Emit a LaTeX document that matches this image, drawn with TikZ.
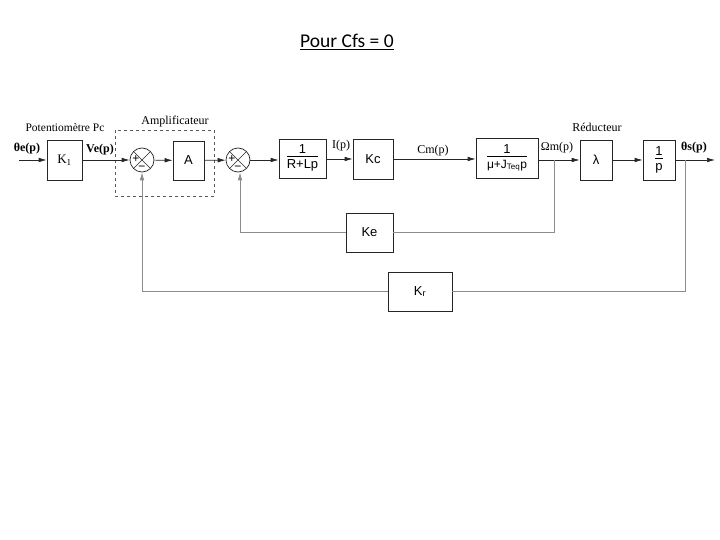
\documentclass[tikz,border=0pt]{standalone}
\usepackage{fontspec}
\setmainfont{Liberation Serif}
\setsansfont{Liberation Sans}
\newfontfamily\titlefont{Carlito}
\usetikzlibrary{arrows.meta}
\begin{document}
\begin{tikzpicture}[x=1pt,y=-1pt,
  blk/.style={draw=black!85, line width=0.7pt, inner sep=1pt, font=\sffamily\fontsize{13}{14}\selectfont},
  sumj/.style={circle, draw=black!85, line width=0.7pt, minimum size=24pt, inner sep=0pt,
    path picture={\draw[line width=0.5pt] (path picture bounding box.north west) -- (path picture bounding box.south east)
      (path picture bounding box.north east) -- (path picture bounding box.south west);}},
  fwd/.style={draw=black!85, line width=0.7pt},
  fb/.style={draw=black!45, line width=0.7pt},
  arr/.style={-{Latex[length=8pt,width=4.6pt]}},
  lab/.style={font=\fontsize{12}{13}\selectfont, inner sep=0pt},
  sg/.style={font=\sffamily\fontsize{12}{12}\selectfont, inner sep=0pt}
]
\useasboundingbox (0,0) rectangle (720,540);

% title
\node[font=\titlefont\fontsize{19.5}{22}\selectfont] (title) at (347,42) {\underline{Pour Cfs = 0}};

% blocks
\node[blk, minimum width=35pt, minimum height=40pt, font=\rmfamily\fontsize{13}{14}\selectfont] (K1) at (64.5,160) {K\textsubscript{1}};
\node[sumj] (s1) at (142,160) {};
\node[blk, minimum width=31pt, minimum height=39pt] (A) at (188.5,160.5) {A};
\node[sumj] (s2) at (238,160) {};
\node[blk, minimum width=47pt, minimum height=39pt] (RL) at (302.5,158.5)
  {\begin{tabular}{@{}c@{}}1\\[-2pt]\hline\rule{0pt}{12pt}R+Lp\end{tabular}};
\node[blk, minimum width=40pt, minimum height=40pt] (Kc) at (373,159) {Kc};
\node[blk, minimum width=62pt, minimum height=40pt] (M) at (507,158)
  {\begin{tabular}{@{}c@{}}1\\[-2pt]\hline\rule{0pt}{12pt}\fontsize{12}{13}\selectfont μ+J\textsubscript{Teq}p\end{tabular}};
\node[blk, minimum width=32pt, minimum height=40pt] (lam) at (596,160) {λ};
\node[blk, minimum width=32pt, minimum height=40pt] (ip) at (659,160)
  {\begin{tabular}{@{}c@{}}1\\[-2pt]\hline\rule{0pt}{12pt}p\end{tabular}};
\node[blk, minimum width=47pt, minimum height=39pt] (Ke) at (369.5,232.5) {Ke};
\node[blk, minimum width=64pt, minimum height=39pt] (Kr) at (420,291.5) {K\textsubscript{r}};

% signs
\node[sg] (p1) at (136,159.5) {+};
\node[sg] (m1) at (142,168) {−};
\node[sg] (p2) at (232,159.5) {+};
\node[sg] (m2) at (238,168) {−};

% dashed amplifier box
\draw[draw=black!65, line width=0.7pt, dashed] (115,130) rectangle (214,196);

% labels
\node[lab, font=\fontsize{11.5}{13}\selectfont] (lpot) at (65,128) {Potentiomètre Pc};
\node[lab, font=\fontsize{12}{13}\selectfont] (lamp) at (175,122) {Amplificateur};
\node[lab, font=\fontsize{12}{13}\selectfont] (lred) at (597,127) {Réducteur};
\node[lab, font=\bfseries\fontsize{12}{13}\selectfont] (lte) at (27,149) {θe(p)};
\node[lab, font=\bfseries\fontsize{12}{13}\selectfont] (lve) at (100,150) {Ve(p)};
\node[lab] (lip) at (341,146) {I(p)};
\node[lab] (lcm) at (433,151) {Cm(p)};
\node[lab] (lom) at (557,148) {Ωm(p)};
\node[lab, font=\bfseries\fontsize{12}{13}\selectfont] (lts) at (694,148) {θs(p)};

% coordinates
\coordinate (in) at (19,160);
\coordinate (out) at (715,160);
\coordinate (b1) at (554,160);
\coordinate (b2) at (685,160);
\coordinate (c1) at (554,232.5);
\coordinate (c2) at (240,232.5);
\coordinate (c3) at (685,291.5);
\coordinate (c4) at (142,291.5);

% forward path
\draw[fwd, arr] (in) -- (K1);
\draw[fwd, arr] (K1) -- (s1);
\draw[fwd, arr] (s1) -- (A);
\draw[fwd, arr] (A) -- (s2);
\draw[fwd, arr] (s2) -- (RL.west |- s2);
\draw[fwd, arr] (RL.east |- Kc) -- (Kc);
\draw[fwd, arr] (Kc) -- (M.west |- Kc);
\draw[fwd, arr] (M.east |- lam) -- (lam);
\draw[fwd, arr] (lam) -- (ip);
\draw[fwd, arr] (ip) -- (out);

% feedback paths
\draw[fb] (b1) -- (c1) -- (Ke.east |- c1);
\draw[fb, arr] (Ke.west |- c2) -- (c2) -- (c2 |- s2.south);
\draw[fb] (b2) -- (c3) -- (Kr.east |- c3);
\draw[fb, arr] (Kr.west |- c4) -- (c4) -- (s1.south);
\end{tikzpicture}
\end{document}
